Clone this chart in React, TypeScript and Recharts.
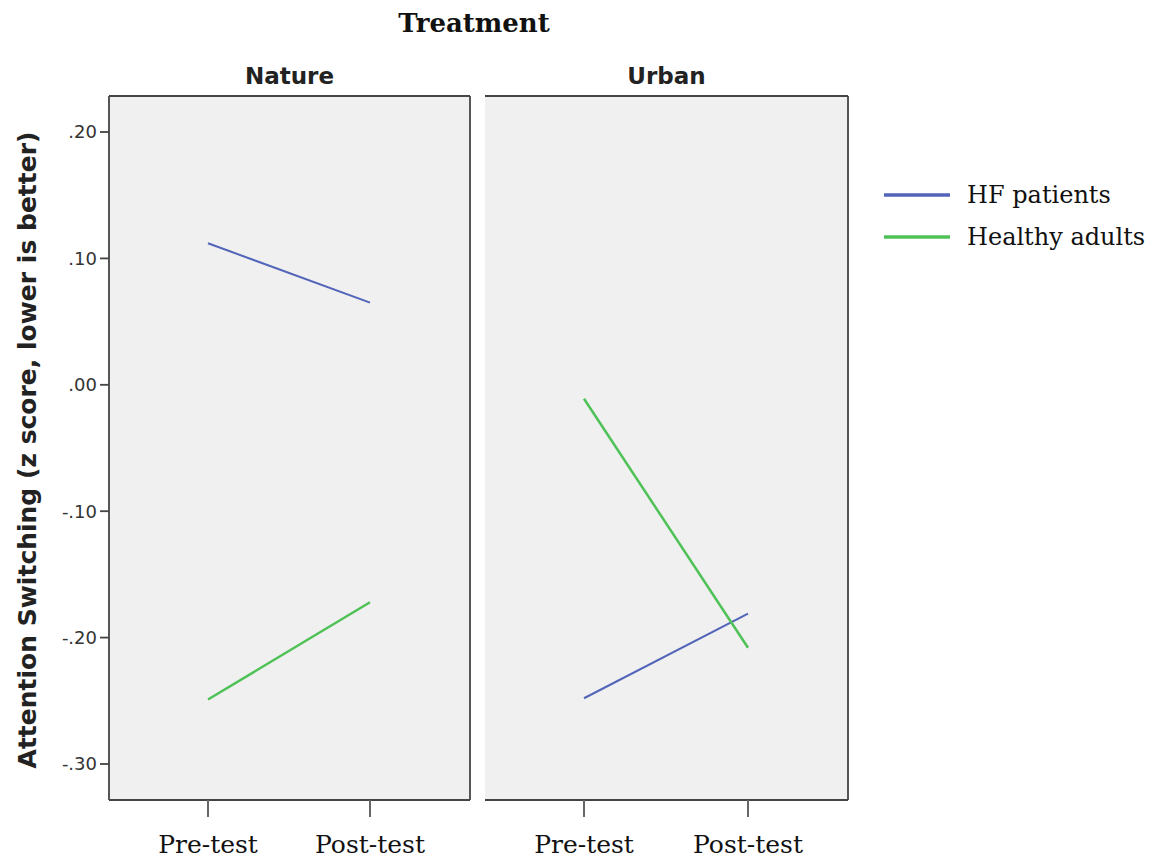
import React from 'react';
import { LineChart, Line, XAxis, YAxis, CartesianGrid, Legend } from 'recharts';

const phases = ['Pre-test', 'Post-test'];
const natureHF = [0.112, 0.065];
const natureHealthy = [-0.249, -0.172];
const urbanHF = [-0.248, -0.181];
const urbanHealthy = [-0.011, -0.208];
const yTicks = [-0.3, -0.2, -0.1, 0, 0.1, 0.2];
const seriesNames = ['HF patients', 'Healthy adults'];

const BLUE = '#5265b9';
const GREEN = '#4fc257';
const BORDER = '#444';
const PANEL_BG = '#f0f0f0';

const Y_DOMAIN: [number, number] = [-0.3285, 0.2285];

const buildRows = (hf: number[], healthy: number[]) =>
  phases.map((p, i) => ({ phase: p, hf: hf[i], healthy: healthy[i] }));

const natureData = buildRows(natureHF, natureHealthy);
const urbanData = buildRows(urbanHF, urbanHealthy);

const fmtTick = (v: number) => {
  const s = Math.abs(v).toFixed(2).replace(/^0/, '');
  return v < -0.0001 ? `-${s}` : s;
};

const XTick = (props: any) => {
  const { x, y, payload } = props;
  return (
    <text
      x={x}
      y={y}
      dy={34}
      textAnchor="middle"
      fontFamily="DejaVu Serif"
      fontSize={25}
      fill="#111"
    >
      {payload.value}
    </text>
  );
};

const YTitle = (props: any) => {
  const vb = props.viewBox || {};
  const cx = 27;
  const cy = (vb.y ?? 96) + (vb.height ?? 704) / 2 + 2;
  return (
    <text
      x={cx}
      y={cy}
      transform={`rotate(-90, ${cx}, ${cy})`}
      textAnchor="middle"
      dominantBaseline="central"
      fontFamily="DejaVu Sans"
      fontWeight="bold"
      fontSize={25}
      fill="#222"
    >
      Attention Switching (z score, lower is better)
    </text>
  );
};

const panelTitle = (title: string) => (props: any) => {
  const vb = props.viewBox || {};
  return (
    <text
      x={(vb.x ?? 0) + (vb.width ?? 0) / 2}
      y={(vb.y ?? 40) + 44}
      textAnchor="middle"
      fontFamily="DejaVu Sans"
      fontWeight="bold"
      fontSize={23}
      fill="#222"
    >
      {title}
    </text>
  );
};

const LegendBox = () => (
  <div style={{ fontFamily: 'DejaVu Serif', fontSize: 24, color: '#111' }}>
    {seriesNames.map((name, i) => (
      <div key={name} style={{ display: 'flex', alignItems: 'center', height: 42 }}>
        <svg width={66} height={6} style={{ marginRight: 17 }}>
          <line x1={0} y1={3} x2={66} y2={3} stroke={i === 0 ? BLUE : GREEN} strokeWidth={3.5} />
        </svg>
        <span>{name}</span>
      </div>
    ))}
  </div>
);

interface PanelProps {
  data: any[];
  title: string;
  showY: boolean;
  width: number;
  marginLeft: number;
  marginRight: number;
  yWidth: number;
  withLegend?: boolean;
}

const Panel: React.FC<PanelProps> = ({ data, title, showY, width, marginLeft, marginRight, yWidth, withLegend }) => (
  <LineChart
    width={width}
    height={865}
    data={data}
    margin={{ top: 40, right: marginRight, left: marginLeft, bottom: 0 }}
  >
    <CartesianGrid fill={PANEL_BG} stroke="none" horizontal={false} vertical={false} />
    <XAxis
      dataKey="phase"
      type="category"
      padding={{ left: 99, right: 100 }}
      height={65}
      axisLine={{ stroke: BORDER, strokeWidth: 1.8 }}
      tickLine={{ stroke: '#666', strokeWidth: 2 }}
      tickSize={17}
      tick={<XTick />}
      interval={0}
    />
    <XAxis
      xAxisId="top"
      orientation="top"
      height={56}
      tick={false}
      tickLine={false}
      axisLine={{ stroke: BORDER, strokeWidth: 1.8 }}
      label={{ content: panelTitle(title) } as any}
    />
    <YAxis
      type="number"
      domain={Y_DOMAIN}
      ticks={yTicks}
      width={yWidth}
      tick={showY ? { fill: '#333', fontSize: 18, fontFamily: 'DejaVu Sans' } : false}
      tickFormatter={fmtTick}
      tickLine={showY ? { stroke: BORDER, strokeWidth: 1.8 } : false}
      tickSize={9}
      tickMargin={3}
      axisLine={{ stroke: BORDER, strokeWidth: 1.8 }}
      allowDataOverflow
      label={showY ? ({ content: <YTitle /> } as any) : undefined}
    />
    <YAxis
      yAxisId="right"
      orientation="right"
      type="number"
      domain={Y_DOMAIN}
      ticks={yTicks}
      width={1}
      tick={false}
      tickLine={false}
      axisLine={{ stroke: BORDER, strokeWidth: 1.8 }}
    />
    {withLegend && (
      <Legend
        layout="vertical"
        align="center"
        verticalAlign="middle"
        content={<LegendBox />}
        wrapperStyle={{ position: 'absolute', left: 404, top: 174, width: 280, height: 90 }}
      />
    )}
    <Line
      dataKey="hf"
      name={seriesNames[0]}
      stroke={BLUE}
      strokeWidth={2}
      dot={false}
      activeDot={false}
      isAnimationActive={false}
    />
    <Line
      dataKey="healthy"
      name={seriesNames[1]}
      stroke={GREEN}
      strokeWidth={2.5}
      dot={false}
      activeDot={false}
      isAnimationActive={false}
    />
  </LineChart>
);

export default function App() {
  return (
    <div
      style={{
        position: 'absolute',
        left: 0,
        top: 0,
        width: 1158,
        height: 865,
        background: '#fff',
        overflow: 'hidden',
      }}
    >
      <div
        style={{
          position: 'absolute',
          left: 0,
          top: 10,
          width: 948,
          textAlign: 'center',
          fontFamily: 'DejaVu Serif',
          fontWeight: 'bold',
          fontSize: 26,
          lineHeight: '26px',
          color: '#111',
        }}
      >
        Treatment
      </div>
      <div style={{ position: 'absolute', left: 0, top: 0 }}>
        <Panel data={natureData} title="Nature" showY width={480} marginLeft={0} marginRight={9} yWidth={109} />
      </div>
      <div style={{ position: 'absolute', left: 480, top: 0 }}>
        <Panel
          data={urbanData}
          title="Urban"
          showY={false}
          width={678}
          marginLeft={5}
          marginRight={309}
          yWidth={0}
          withLegend
        />
      </div>
    </div>
  );
}
